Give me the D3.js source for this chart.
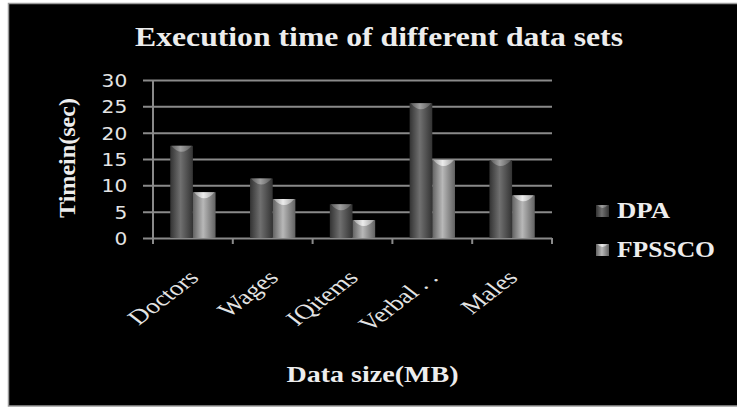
<!DOCTYPE html>
<html>
<head>
<meta charset="utf-8">
<script src="https://cdn.jsdelivr.net/npm/d3@7"></script>
<style>
  html, body { margin: 0; padding: 0; background: #fff; }
  svg { display: block; }
</style>
</head>
<body>
<div id="chart"></div>
<script>
// data
const categories = ['Doctors', 'Wages', 'IQitems', 'Verbal . .', 'Males'];
const series = ['DPA', 'FPSSCO'];
const dpaValues = [17.5, 11.3, 6.4, 25.6, 14.8];
const fpsscoValues = [8.7, 7.4, 3.4, 14.8, 8.1];
const yTicks = [0, 5, 10, 15, 20, 25, 30];

const width = 737, height = 408;
const margin = { top: 80, right: 185, bottom: 170, left: 153 };
const serif = "'Liberation Serif', 'Times New Roman', serif";

const svg = d3.select('#chart').append('svg')
  .attr('width', width)
  .attr('height', height);

const defs = svg.append('defs');
function barGradient(id, edge, mid) {
  const g = defs.append('linearGradient').attr('id', id)
    .attr('x1', '0%').attr('x2', '100%').attr('y1', '0%').attr('y2', '0%');
  g.append('stop').attr('offset', '0%').attr('stop-color', edge);
  g.append('stop').attr('offset', '45%').attr('stop-color', mid);
  g.append('stop').attr('offset', '100%').attr('stop-color', edge);
}
barGradient('grad-DPA', '#333', '#707070');
barGradient('grad-FPSSCO', '#626262', '#b8b8b8');
barGradient('cap-DPA', '#5a5a5a', '#a0a0a0');
barGradient('cap-FPSSCO', '#a0a0a0', '#ececec');

// black panel with grey frame
svg.append('rect')
  .attr('x', 8.5).attr('y', 3.5)
  .attr('width', width).attr('height', 402.5)
  .attr('fill', '#000')
  .attr('stroke', '#9a9a9a')
  .attr('stroke-width', 1.5);

const x0 = d3.scaleBand().domain(categories)
  .range([margin.left, width - margin.right]);
const x1 = d3.scaleBand().domain(series)
  .range([0, x0.bandwidth()])
  .paddingInner(0).paddingOuter(0.76);
const y = d3.scaleLinear().domain([0, 30])
  .range([height - margin.bottom, margin.top]);

// gridlines + y labels
const yAxis = svg.append('g')
  .attr('transform', `translate(${margin.left},0)`)
  .call(d3.axisLeft(y).tickValues(yTicks)
    .tickSize(-(width - margin.right - margin.left))
    .tickSizeOuter(0).tickPadding(25));
yAxis.select('.domain').remove();
yAxis.selectAll('.tick line')
  .attr('x1', -10)
  .attr('stroke', '#8a8a8a').attr('stroke-width', 2);
yAxis.selectAll('.tick text')
  .attr('fill', '#e4e4e4')
  .attr('font-family', "'DejaVu Sans', sans-serif")
  .attr('font-size', 18)
  .attr('dy', '0.36em')
  .attr('transform', 'scale(1.12,1)')
  .attr('x', -23);
svg.append('line')
  .attr('x1', margin.left).attr('x2', margin.left)
  .attr('y1', y(30)).attr('y2', y(0) + 6)
  .attr('stroke', '#8a8a8a').attr('stroke-width', 2);

// x axis ticks at category boundaries
const bounds = categories.map(c => x0(c)).concat([x0.range()[1]]);
svg.append('g').selectAll('line')
  .data(bounds)
  .join('line')
  .attr('x1', d => d).attr('x2', d => d)
  .attr('y1', y(0)).attr('y2', y(0) + 6)
  .attr('stroke', '#8a8a8a').attr('stroke-width', 2);

// bars
const rows = categories.map((c, i) => ({ cat: c, DPA: dpaValues[i], FPSSCO: fpsscoValues[i] }));
const groups = svg.append('g').selectAll('g')
  .data(rows)
  .join('g')
  .attr('transform', d => `translate(${x0(d.cat)},0)`);
const bars = groups.selectAll('g')
  .data(d => series.map(s => ({ s, v: d[s] })))
  .join('g');
bars.append('rect')
  .attr('x', d => x1(d.s))
  .attr('y', d => y(d.v))
  .attr('width', x1.bandwidth())
  .attr('height', d => y(0) - y(d.v))
  .attr('fill', d => `url(#grad-${d.s})`);
bars.append('path')
  .attr('d', d => {
    const bx = x1(d.s), by = y(d.v), w = x1.bandwidth();
    return `M${bx + 1},${by} Q${bx + w / 2},${by + 12} ${bx + w - 1},${by} Z`;
  })
  .attr('fill', d => `url(#cap-${d.s})`);

// x tick labels (stretched diagonal like the original)
svg.append('g').selectAll('text')
  .data(categories)
  .join('text')
  .attr('transform', d => `translate(${x0(d) + x0.bandwidth() / 2 + 7},279) scale(1.3,1) rotate(-45)`)
  .attr('text-anchor', 'end')
  .attr('font-family', serif)
  .attr('font-size', 21)
  .attr('fill', '#e4e4e4')
  .text(d => d);

// titles
svg.append('text')
  .attr('x', 379).attr('y', 46)
  .attr('text-anchor', 'middle')
  .attr('font-family', serif).attr('font-weight', 'bold')
  .attr('font-size', 27)
  .attr('textLength', 488).attr('lengthAdjust', 'spacingAndGlyphs')
  .attr('fill', '#ededed')
  .text('Execution time of different data sets');

svg.append('text')
  .attr('transform', 'translate(75,158) rotate(-90)')
  .attr('text-anchor', 'middle')
  .attr('font-family', serif).attr('font-weight', 'bold')
  .attr('font-size', 23)
  .attr('textLength', 120).attr('lengthAdjust', 'spacingAndGlyphs')
  .attr('fill', '#ededed')
  .text('Timein(sec)');

svg.append('text')
  .attr('x', 372.5).attr('y', 382)
  .attr('text-anchor', 'middle')
  .attr('font-family', serif).attr('font-weight', 'bold')
  .attr('font-size', 23.5)
  .attr('textLength', 172).attr('lengthAdjust', 'spacingAndGlyphs')
  .attr('fill', '#ededed')
  .text('Data size(MB)');

// legend
const legendY = [218, 257];
const legendW = [53, 98];
const legend = svg.append('g').selectAll('g')
  .data(series)
  .join('g')
  .attr('transform', (d, i) => `translate(596,${legendY[i]})`);
legend.append('rect')
  .attr('x', 0).attr('y', -13)
  .attr('width', 13).attr('height', 12)
  .attr('fill', d => `url(#grad-${d})`);
legend.append('path')
  .attr('d', 'M1,-13 Q6.5,-7 12,-13 Z')
  .attr('fill', d => `url(#cap-${d})`);
legend.append('text')
  .attr('x', 21).attr('y', 0)
  .attr('font-family', serif).attr('font-weight', 'bold')
  .attr('font-size', 22.5)
  .attr('textLength', (d, i) => legendW[i]).attr('lengthAdjust', 'spacingAndGlyphs')
  .attr('fill', '#ededed')
  .text(d => d);
</script>
</body>
</html>
